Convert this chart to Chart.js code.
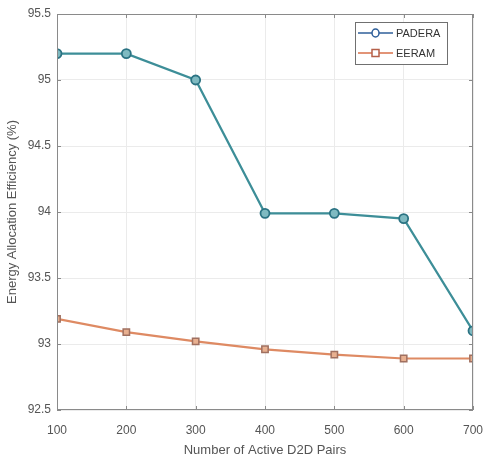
<!DOCTYPE html>
<html>
<head>
<meta charset="utf-8">
<script src="https://cdn.jsdelivr.net/npm/chart.js@4/dist/chart.umd.min.js"></script>
<style>
html,body{margin:0;padding:0;background:#fff;}
#wrap{width:484px;height:460px;}
</style>
</head>
<body>
<div id="wrap"><canvas id="c" width="484" height="460"></canvas></div>
<script>
const pairs = [100, 200, 300, 400, 500, 600, 700];
const padera = [95.2, 95.2, 95.0, 93.99, 93.99, 93.95, 93.1];
const eeram = [93.19, 93.09, 93.02, 92.96, 92.92, 92.89, 92.89];
const seriesNames = ['PADERA', 'EERAM'];
const xTitle = 'Number of Active D2D Pairs';
const yTitle = 'Energy Allocation Efficiency (%)';

const PL = 57, PR = 473, PT = 14, PB = 410;
const FONT = '"Liberation Sans", Arial, sans-serif';

const frame = {
  id: 'frame',
  afterDraw(chart) {
    const ctx = chart.ctx, a = chart.chartArea;
    const xs = chart.scales.x, ys = chart.scales.y;
    ctx.save();
    ctx.strokeStyle = '#8a8a8a';
    ctx.lineWidth = 1;
    ctx.strokeRect(a.left + 0.5, a.top + 0.5, a.right - a.left - 1, a.bottom - a.top - 1);
    ctx.beginPath();
    xs.ticks.forEach(t => {
      const x = Math.round(xs.getPixelForValue(t.value)) + 0.5;
      ctx.moveTo(x, a.bottom); ctx.lineTo(x, a.bottom - 4);
      ctx.moveTo(x, a.top); ctx.lineTo(x, a.top + 4);
    });
    ys.ticks.forEach(t => {
      const y = Math.round(ys.getPixelForValue(t.value)) + 0.5;
      ctx.moveTo(a.left, y); ctx.lineTo(a.left + 4, y);
      ctx.moveTo(a.right, y); ctx.lineTo(a.right - 4, y);
    });
    ctx.stroke();
    // legend
    const bx = 355, by = 22, bw = 92, bh = 42;
    ctx.fillStyle = '#fff';
    ctx.fillRect(bx, by, bw, bh);
    ctx.strokeStyle = '#707070';
    ctx.strokeRect(bx + 0.5, by + 0.5, bw, bh);
    const legendCols = [{line:'#2f5f9a', mk:'#2f5f9a'}, {line:'#d9714a', mk:'#b5604a'}];
    chart.data.datasets.forEach((ds, i) => {
      const y = by + 11 + i * 20;
      ctx.strokeStyle = legendCols[i].line;
      ctx.lineWidth = 1.5;
      ctx.beginPath(); ctx.moveTo(bx + 3, y); ctx.lineTo(bx + 38, y); ctx.stroke();
      ctx.strokeStyle = legendCols[i].mk;
      ctx.beginPath();
      if (ds.pointStyle === 'rect') { ctx.rect(bx + 17, y - 3.5, 7, 7); }
      else { ctx.ellipse(bx + 20.5, y, 3.5, 4, 0, 0, Math.PI * 2); }
      ctx.fillStyle = '#fff'; ctx.fill(); ctx.stroke();
      ctx.fillStyle = '#333';
      ctx.font = '11px ' + FONT;
      ctx.textBaseline = 'middle';
      ctx.textAlign = 'left';
      ctx.fillText(ds.label, bx + 41, y + 0.5);
    });
    ctx.restore();
  }
};

new Chart(document.getElementById('c'), {
  type: 'line',
  data: {
    datasets: [
      {
        label: seriesNames[0],
        data: pairs.map((x, i) => ({x, y: padera[i]})),
        borderColor: '#3d8e98',
        borderWidth: 2.2,
        pointStyle: 'circle',
        pointRadius: 4.5,
        pointBorderWidth: 1.8,
        pointBorderColor: '#2b7383',
        pointBackgroundColor: '#7fbac1',
        tension: 0
      },
      {
        label: seriesNames[1],
        data: pairs.map((x, i) => ({x, y: eeram[i]})),
        borderColor: '#de8a63',
        borderWidth: 2.2,
        pointStyle: 'rect',
        pointRadius: 4.5,
        pointBorderWidth: 1.5,
        pointBorderColor: '#a07060',
        pointBackgroundColor: '#e8b090',
        tension: 0
      }
    ]
  },
  options: {
    responsive: false,
    animation: false,
    devicePixelRatio: 1,
    layout: { padding: { left: 0, right: 0, top: PT, bottom: 0 } },
    plugins: { legend: { display: false }, tooltip: { enabled: false } },
    scales: {
      x: {
        type: 'linear',
        min: 100, max: 700,
        ticks: { stepSize: 100, color: '#555', font: { family: FONT, size: 12 }, padding: 13, maxRotation: 0 },
        grid: { color: '#ebebeb', drawTicks: false },
        border: { display: false },
        title: { display: true, text: xTitle, color: '#555', font: { family: FONT, size: 13 }, padding: { top: 2, bottom: 2 } },
        afterFit(s) { s.height = 460 - PB; s.paddingRight = 484 - PR; s.paddingLeft = 0; }
      },
      y: {
        min: 92.5, max: 95.5,
        ticks: { stepSize: 0.5, color: '#555', font: { family: FONT, size: 12 }, padding: 6,
                 callback: v => String(Math.round(v * 10) / 10) },
        grid: { color: '#ebebeb', drawTicks: false },
        border: { display: false },
        title: { display: true, text: yTitle, color: '#555', font: { family: FONT, size: 13 }, padding: { top: 5, bottom: 4 } },
        afterFit(s) { s.width = PL; s.paddingTop = 0; s.paddingBottom = 0; }
      }
    }
  },
  plugins: [frame]
});
</script>
</body>
</html>
